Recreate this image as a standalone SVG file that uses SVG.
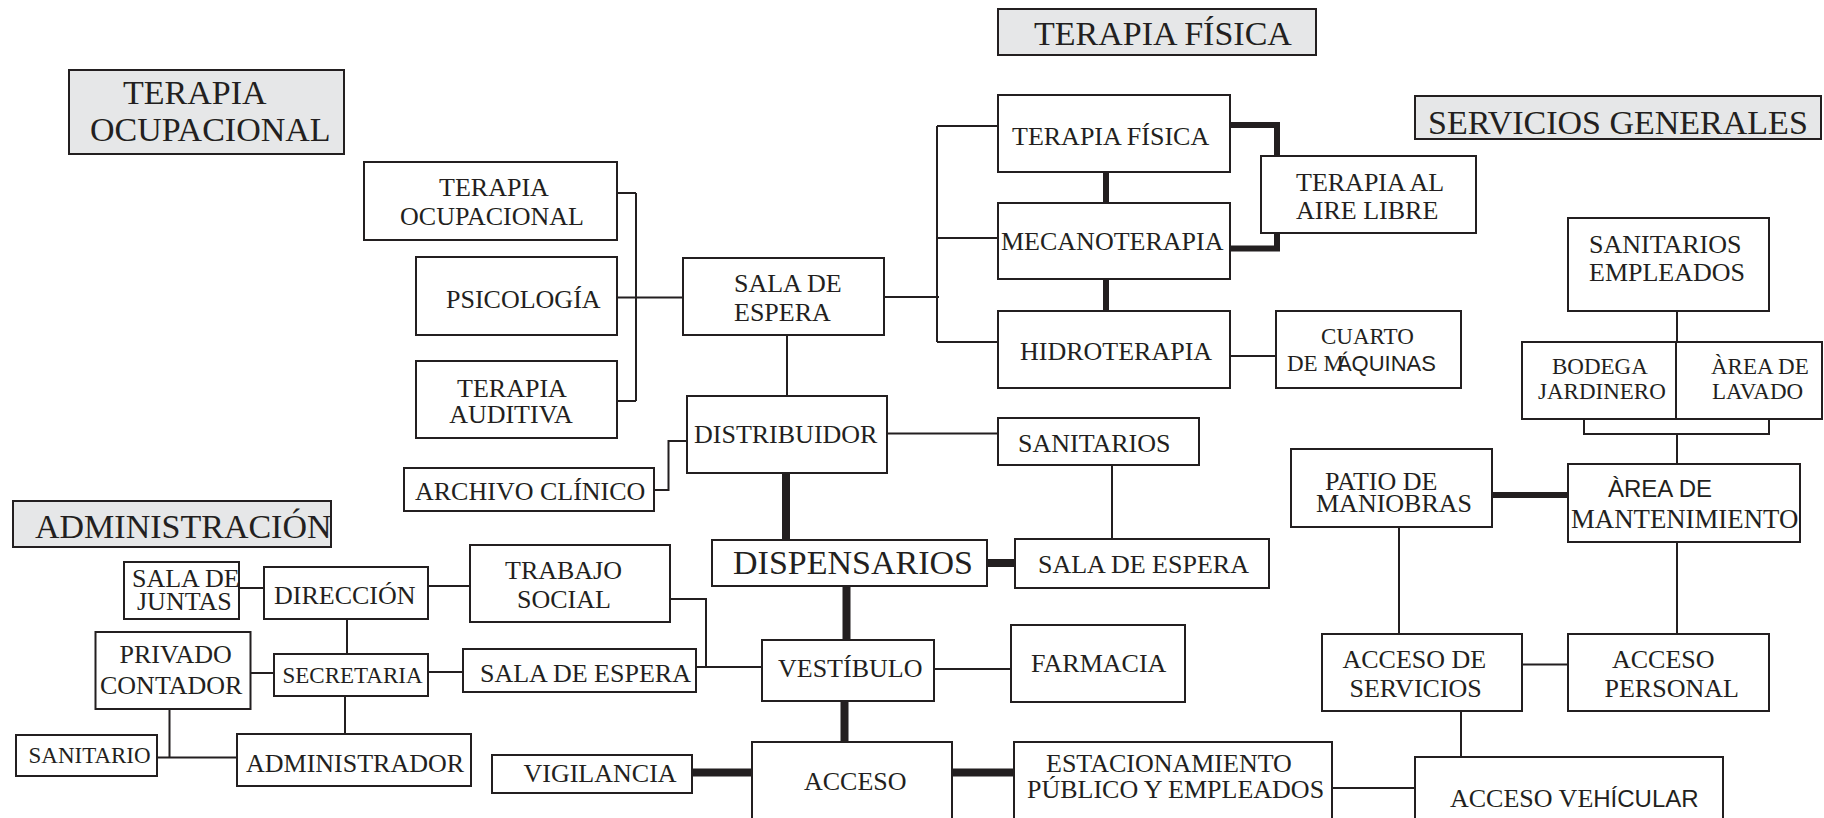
<svg xmlns="http://www.w3.org/2000/svg" width="1824" height="818" viewBox="0 0 1824 818">
<style>
.b{fill:#fff;stroke:#231f20;stroke-width:2}
.h{fill:#e6e7e8;stroke:#231f20;stroke-width:2}
text{font-family:"Liberation Serif","Times New Roman",serif;font-size:26px;fill:#231f20}
.m{text-anchor:middle}
.s22{font-size:22px}
.s23{font-size:23px}
.s24{font-size:24px}
.s27{font-size:26.8px}
.ht{font-size:34px}
.sans{font-family:"Liberation Sans",Arial,sans-serif}
.c{fill:none;stroke:#231f20;stroke-width:2}
.k{fill:none;stroke:#231f20;stroke-width:8}
.k6{fill:none;stroke:#231f20;stroke-width:6}
</style>
<rect width="1824" height="818" fill="#fff"/>
<g id="connectors">
<path class="c" d="M617,193H636M636,193V401M617,297.5H683M617,401H636"/>
<path class="c" d="M884,297H939M937,126V342M937,126H998M937,238H998M937,342H998"/>
<path class="c" d="M787,335V396"/>
<path class="c" d="M654,490H668.5V441H687"/>
<path class="c" d="M887,433.5H998"/>
<path class="c" d="M1112,465V539"/>
<path class="c" d="M934,669H1011"/>
<path class="c" d="M1230,356H1276"/>
<path class="c" d="M1677,311V342"/>
<path class="c" d="M1584,419V434H1769V419M1677,434V464"/>
<path class="c" d="M1677,542V634"/>
<path class="c" d="M1399,527V634"/>
<path class="c" d="M1522,664.5H1568"/>
<path class="c" d="M1461,711V757"/>
<path class="c" d="M1332,788H1415"/>
<path class="c" d="M239,588H264M428,586H470M347,619V654M428,672H463M250,673H274M345,696V734M169.5,709V757.5M157,757.5H237"/>
<path class="c" d="M670,599H706V667M696,667H762"/>
<path class="k" d="M786,473V540M987,563H1015M846.5,586V640M844.5,701V742M692,772.5H752M952,772.5H1014"/>
<path class="k6" d="M1106,172V203M1106,279V311M1230,125H1277V156M1230,248.5H1277V233M1492,495H1568"/>
</g>
<g id="hdr-terapia-ocupacional"><rect class="h" x="69" y="70" width="275" height="84"/><text class="ht" x="123" y="104">TERAPIA</text><text class="ht" x="90" y="141">OCUPACIONAL</text></g>
<g id="hdr-terapia-fisica"><rect class="h" x="998" y="9" width="318" height="46"/><text class="ht" x="1034" y="45">TERAPIA FÍSICA</text></g>
<g id="hdr-servicios"><rect class="h" x="1415" y="96" width="406" height="43"/><text class="ht" x="1428" y="134">SERVICIOS GENERALES</text></g>
<g id="hdr-admin"><rect class="h" x="13" y="501" width="318" height="46"/><text class="ht" x="35" y="538">ADMINISTRACIÓN</text></g>
<g id="n-to"><rect class="b" x="364" y="162" width="253" height="78"/><text class="m" x="494" y="195.5">TERAPIA</text><text class="m" x="492" y="225">OCUPACIONAL</text></g>
<g id="n-psico"><rect class="b" x="416" y="257" width="201" height="78"/><text x="446" y="307.5">PSICOLOGÍA</text></g>
<g id="n-ta"><rect class="b" x="416" y="361" width="201" height="77"/><text class="m" x="512" y="397">TERAPIA</text><text class="m" x="511" y="422.5">AUDITIVA</text></g>
<g id="n-sala1"><rect class="b" x="683" y="258" width="201" height="77"/><text x="734" y="292">SALA DE</text><text x="734" y="321">ESPERA</text></g>
<g id="n-tf"><rect class="b" x="998" y="95" width="232" height="77"/><text x="1012" y="145">TERAPIA FÍSICA</text></g>
<g id="n-meca"><rect class="b" x="998" y="203" width="232" height="76"/><text x="1001" y="250">MECANOTERAPIA</text></g>
<g id="n-hidro"><rect class="b" x="998" y="311" width="232" height="77"/><text x="1020" y="360">HIDROTERAPIA</text></g>
<g id="n-tal"><rect class="b" x="1261" y="156" width="215" height="77"/><text x="1296" y="191">TERAPIA AL</text><text x="1296" y="219">AIRE LIBRE</text></g>
<g id="n-cuarto"><rect class="b" x="1276" y="311" width="185" height="77"/><text class="s23" x="1321" y="344">CUARTO</text><text class="s23" x="1287" y="371">DE M<tspan class="sans s22" dx="-7">ÁQUINAS</tspan></text></g>
<g id="n-distrib"><rect class="b" x="687" y="396" width="200" height="77"/><text x="694" y="443">DISTRIBUIDOR</text></g>
<g id="n-archivo"><rect class="b" x="404" y="468" width="250" height="43"/><text x="415" y="499.5">ARCHIVO CLÍNICO</text></g>
<g id="n-sanit"><rect class="b" x="998" y="418" width="201" height="47"/><text x="1018" y="452">SANITARIOS</text></g>
<g id="n-disp"><rect class="b" x="712" y="540" width="275" height="46"/><text class="ht" x="733" y="574">DISPENSARIOS</text></g>
<g id="n-sala2"><rect class="b" x="1015" y="539" width="254" height="49"/><text x="1038" y="573">SALA DE ESPERA</text></g>
<g id="n-vest"><rect class="b" x="762" y="640" width="172" height="61"/><text x="778" y="677">VESTÍBULO</text></g>
<g id="n-farm"><rect class="b" x="1011" y="625" width="174" height="77"/><text x="1031" y="672">FARMACIA</text></g>
<g id="n-acceso"><rect class="b" x="752" y="742" width="200" height="90"/><text x="804" y="790">ACCESO</text></g>
<g id="n-estac"><rect class="b" x="1014" y="742" width="318" height="90"/><text x="1046" y="772">ESTACIONAMIENTO</text><text x="1027" y="798">PÚBLICO Y EMPLEADOS</text></g>
<g id="n-accveh"><rect class="b" x="1415" y="757" width="308" height="75"/><text x="1450" y="807">ACCESO VE<tspan class="sans s24">HÍCULAR</tspan></text></g>
<g id="n-accserv"><rect class="b" x="1322" y="634" width="200" height="77"/><text x="1342.5" y="668">ACCESO DE</text><text x="1349.5" y="697">SERVICIOS</text></g>
<g id="n-accpers"><rect class="b" x="1568" y="634" width="201" height="77"/><text x="1612" y="668">ACCESO</text><text x="1604.5" y="697">PERSONAL</text></g>
<g id="n-patio"><rect class="b" x="1291" y="449" width="201" height="78"/><text x="1325" y="490">PATIO DE</text><text x="1316" y="512">MANIOBRAS</text></g>
<g id="n-areamant"><rect class="b" x="1568" y="464" width="232" height="78"/><text class="sans s24" x="1608" y="497">ÀREA DE</text><text class="s27" x="1571" y="528">MANTENIMIENTO</text></g>
<g id="n-sanemp"><rect class="b" x="1568" y="218" width="201" height="93"/><text x="1589" y="252.5">SANITARIOS</text><text x="1589" y="281">EMPLEADOS</text></g>
<g id="n-bodega"><rect class="b" x="1522" y="342" width="154" height="77"/><text class="s23" x="1552" y="373.5">BODEGA</text><text class="s23" x="1538" y="399">JARDINERO</text></g>
<g id="n-arealav"><rect class="b" x="1676" y="342" width="146" height="77"/><text class="s23" x="1711" y="373.5">ÀREA DE</text><text class="s23" x="1712" y="399">LAVADO</text></g>
<g id="n-juntas"><rect class="b" x="124" y="562" width="115" height="57"/><text x="132" y="587">SALA DE</text><text x="137" y="610">JUNTAS</text></g>
<g id="n-direc"><rect class="b" x="264" y="567" width="164" height="52"/><text x="274" y="603.5">DIRECCIÓN</text></g>
<g id="n-trab"><rect class="b" x="470" y="545" width="200" height="77"/><text x="505" y="579">TRABAJO</text><text x="517" y="608">SOCIAL</text></g>
<g id="n-priv"><rect class="b" x="95.5" y="632" width="155" height="77"/><text x="119.5" y="663">PRIVADO</text><text x="100" y="693.5">CONTADOR</text></g>
<g id="n-secre"><rect class="b" x="274" y="654" width="154" height="42"/><text class="s23" x="282.5" y="683">SECRETARIA</text></g>
<g id="n-sala3"><rect class="b" x="463" y="649" width="233" height="43"/><text x="480" y="682">SALA DE ESPERA</text></g>
<g id="n-sanit2"><rect class="b" x="16" y="735" width="141" height="41"/><text class="s23" x="28.5" y="763">SANITARIO</text></g>
<g id="n-admin"><rect class="b" x="237" y="734" width="234" height="52"/><text x="246" y="772">ADMINISTRADOR</text></g>
<g id="n-vigil"><rect class="b" x="492" y="755" width="200" height="38"/><text x="523.5" y="782">VIGILANCIA</text></g>
</svg>
